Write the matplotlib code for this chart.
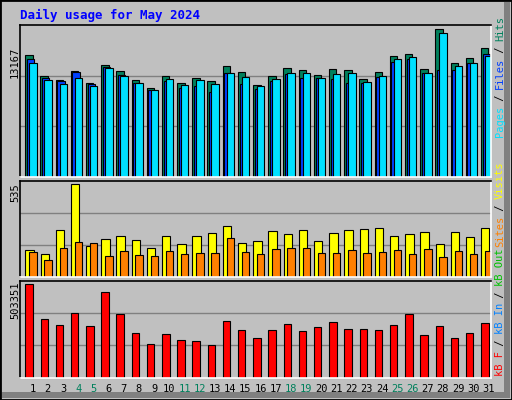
import matplotlib
matplotlib.use("Agg")
import matplotlib.pyplot as plt
from matplotlib.patches import Rectangle

days = list(range(1, 32))
hits = [10844,8967,8609,9443,8341,9950,9443,8609,7894,8967,8341,8788,8520,9860,9324,8162,
        8967,9682,9503,9056,9592,9503,8699,9324,10754,10933,9592,13167,10129,10575,11469]
files = [10486,8788,8520,9324,8252,9771,9056,8341,7745,8550,7894,8073,7537,9235,8252,7835,
         8550,9145,8788,8788,8699,8341,8341,8877,10218,10486,9235,9503,9503,10129,10933]
pages = [10129,8609,8252,8788,8073,9682,8967,8341,7716,8699,8162,8609,8252,9235,8877,8073,
         8699,9235,9235,8788,9145,9235,8430,8967,10486,10665,9235,12810,9860,10129,10754]
visits = [157,134,273,535,180,221,238,215,169,238,192,238,256,297,198,209,
          267,250,273,209,256,273,279,285,238,250,262,192,262,233,285]
sites = [145,99,169,203,198,122,151,128,122,151,134,140,140,227,145,134,
         163,169,169,140,140,157,140,145,157,134,163,116,151,134,151]
kbytes = [503351,314800,281900,349600,276400,463100,342300,237900,183000,232500,199500,194000,
          177600,303800,254400,210500,254400,287400,248900,270900,298400,259900,259900,254400,
          281900,342300,227000,276400,210500,237900,292900]
weekend = [4, 5, 11, 12, 18, 19, 25, 26]

W, H = 512, 400
fig = plt.figure(figsize=(W/100, H/100), dpi=100)
fig.patch.set_facecolor("#c0c0c0")
bg = fig.add_axes([0, 0, 1, 1]); bg.set_xlim(0, W); bg.set_ylim(H, 0); bg.axis("off")
bg.add_patch(Rectangle((0, 0), W, H, fc="#c0c0c0", ec="black", lw=2))
bg.add_patch(Rectangle((2, H-8), W-4, 6, fc="#808080", ec="none"))
bg.add_patch(Rectangle((W-8, 2), 6, H-4, fc="#808080", ec="none"))
bg.text(20, 15, "Daily usage for May 2024", color="#0000ff", fontsize=9, fontweight="bold",
        family="DejaVu Sans Mono", va="center")

mono = "DejaVu Sans Mono"
def panel(y0, y1, ymaxval, toppx, basepx):
    ax = fig.add_axes([20/W, 1-y1/H, 471/W, (y1-y0)/H])
    ax.set_facecolor("#c0c0c0")
    top = ymaxval*(basepx-y0)/(basepx-toppx)
    ax.set_xlim(0, 31); ax.set_ylim(0, top)
    for f in (1/3, 2/3):
        ax.axhline(top*f, color="#808080", lw=1, zorder=0)
    ax.set_xticks([]); ax.set_yticks([])
    for s in ax.spines.values():
        s.set_color("white"); s.set_linewidth(1.2)
    ax.spines["left"].set_color("black"); ax.spines["top"].set_color("black")
    return ax

a1 = panel(25, 177, 13167, 29.3, 176.7)
for i in range(31):
    a1.bar(i+0.34, hits[i], 0.49, align="edge", color="#00805c", ec="black", lw=0.8)
    a1.bar(i+0.45, files[i], 0.49, align="edge", color="#0040ff", ec="black", lw=0.8)
    a1.bar(i+0.6, pages[i], 0.49, align="edge", color="#00e0ff", ec="black", lw=0.8)

a2 = panel(180.5, 277, 535, 184.3, 276.3)
for i in range(31):
    a2.bar(i+0.35, visits[i], 0.55, align="edge", color="#ffff00", ec="black", lw=0.8)
    a2.bar(i+0.6, sites[i], 0.49, align="edge", color="#ff8000", ec="black", lw=0.8)

a3 = panel(280.5, 377.5, 503351, 284, 375.7)
for i in range(31):
    a3.bar(i+0.35, kbytes[i], 0.49, align="edge", color="#ff0000", ec="black", lw=0.8)

bg.text(15, 62, "13167", rotation=90, fontsize=7.5, family=mono, ha="center", va="center")
bg.text(15, 193, "535", rotation=90, fontsize=7.5, family=mono, ha="center", va="center")
bg.text(15, 300, "503351", rotation=90, fontsize=7.5, family=mono, ha="center", va="center")

for i, d in enumerate(days):
    x = 20 + (i+0.83)*471/31
    bg.text(x, 389, str(d), fontsize=7.5, family=mono, ha="center", va="center",
            color="#00805c" if d in weekend else "black")

def vlabel(parts, xc, ybottom):
    y = ybottom
    for txt, col in parts:
        t = bg.text(xc, y, txt, rotation=90, fontsize=7.5, family=mono, color=col,
                    ha="center", va="bottom")
        y -= len(txt)*6.0

vlabel([("Pages", "#00e0ff"), (" / ", "#000000"), ("Files", "#0040ff"), (" / ", "#000000"),
        ("Hits", "#00805c")], 500, 137)
vlabel([("Sites", "#ff8000"), (" / ", "#000000"), ("Visits", "#ffff00")], 500, 247)
vlabel([("kB F", "#ff0000"), (" / ", "#000000"), ("kB In", "#0080ff"), (" / ", "#000000"),
        ("kB Out", "#00c000"), (" ", "#000000")], 500, 376)

fig.savefig("out.png", dpi=100, facecolor=fig.get_facecolor())
